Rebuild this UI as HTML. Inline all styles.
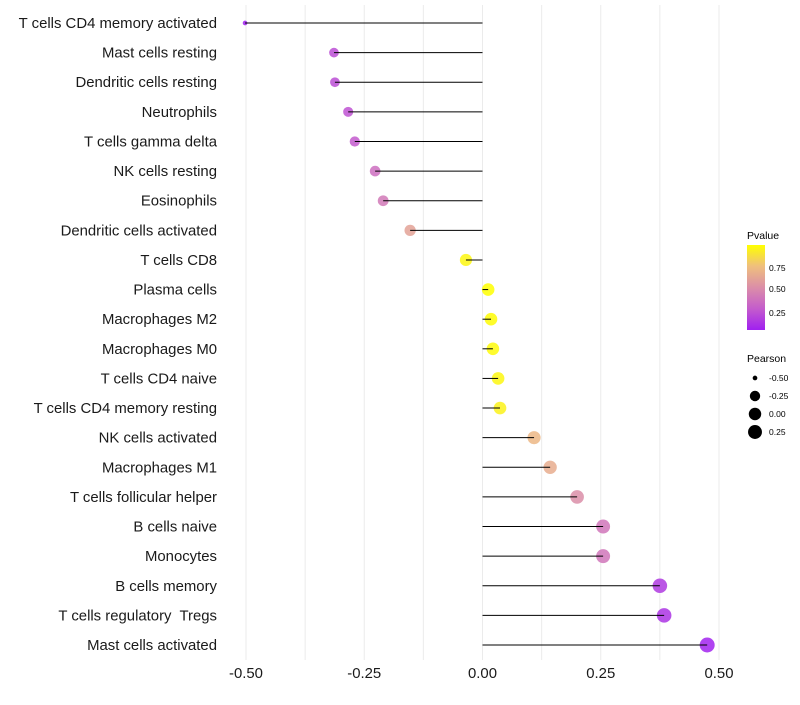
<!DOCTYPE html>
<html><head><meta charset="utf-8"><style>
body{margin:0;background:#fff;font-family:"Liberation Sans",sans-serif}
svg text{font-family:"Liberation Sans",sans-serif;white-space:pre}
</style></head><body>
<svg id="chart" width="800" height="700">
<defs><linearGradient id="pg" x1="0" y1="1" x2="0" y2="0">
<stop offset="0" stop-color="#a020f0"/><stop offset="0.25" stop-color="#c45ccc"/><stop offset="0.5" stop-color="#db8ea8"/><stop offset="0.75" stop-color="#efbf7e"/><stop offset="1" stop-color="#ffff00"/></linearGradient></defs>
<g id="grid"></g>
<g id="marks"></g>
<g id="ylab"></g>
<g id="xlab"></g>
<g>
<text x="747" y="239" font-size="10.5">Pvalue</text>
<rect x="747" y="245" width="18" height="85" fill="url(#pg)"/>
<text x="769" y="271" font-size="8.5">0.75</text>
<text x="769" y="292" font-size="8.5">0.50</text>
<text x="769" y="316" font-size="8.5">0.25</text>
</g>
<g id="sizeleg">
<text x="747" y="362" font-size="10.5">Pearson</text>
</g>
</svg>
<script>
const categories=["T cells CD4 memory activated","Mast cells resting","Dendritic cells resting","Neutrophils","T cells gamma delta","NK cells resting","Eosinophils","Dendritic cells activated","T cells CD8","Plasma cells","Macrophages M2","Macrophages M0","T cells CD4 naive","T cells CD4 memory resting","NK cells activated","Macrophages M1","T cells follicular helper","B cells naive","Monocytes","B cells memory","T cells regulatory  Tregs","Mast cells activated"];
const pearson=[-0.502,-0.314,-0.312,-0.284,-0.27,-0.227,-0.21,-0.153,-0.035,0.012,0.018,0.022,0.033,0.037,0.109,0.143,0.2,0.255,0.255,0.375,0.384,0.475];
const pvalue=[0.01,0.2,0.2,0.22,0.25,0.35,0.4,0.6,0.95,0.98,0.97,0.96,0.95,0.93,0.7,0.65,0.5,0.38,0.38,0.12,0.1,0.03];
const xTicks=[-0.5,-0.25,0,0.25,0.5];
const xTickLabels=["-0.50","-0.25","0.00","0.25","0.50"];
const sizeLegend=[-0.5,-0.25,0,0.25];
const sizeLegendLabels=["-0.50","-0.25","0.00","0.25"];
const NS="http://www.w3.org/2000/svg";
const X=v=>482.5+v*473;
const Y=i=>23+i*(622/21);
const R=v=>2+5.5*Math.pow(Math.max(0.001,(v+0.5)/0.97),0.4);
const stops=[[0,[160,32,240]],[0.25,[196,92,204]],[0.5,[219,142,168]],[0.75,[239,191,126]],[1,[255,255,0]]];
function col(p){p=Math.min(1,Math.max(0,(p-0.02)/0.96));for(let k=1;k<stops.length;k++){if(p<=stops[k][0]){const a=stops[k-1],b=stops[k],t=(p-a[0])/(b[0]-a[0]);return "rgb("+a[1].map((c,j)=>Math.round(c+(b[1][j]-c)*t)).join(",")+")";}}return "rgb(255,255,0)";}
function mk(t,a,parent){const e=document.createElementNS(NS,t);for(const k in a)e.setAttribute(k,a[k]);parent.appendChild(e);return e;}
const grid=document.getElementById('grid');
for(let v=-0.5;v<=0.5001;v+=0.125){const l=mk('line',{x1:X(v),x2:X(v),y1:5,y2:660,stroke:'#ebebeb','stroke-width':1},grid);

}
const marks=document.getElementById('marks'),ylab=document.getElementById('ylab'),xlab=document.getElementById('xlab');
categories.forEach((c,i)=>{
const d=mk('circle',{cx:X(pearson[i]),cy:Y(i),r:R(pearson[i]),fill:col(pvalue[i]),'fill-opacity':0.85},marks);


const s=mk('line',{x1:X(0),x2:X(pearson[i]),y1:Y(i),y2:Y(i),stroke:'#000','stroke-width':1},marks);


const t=mk('text',{x:217,y:Y(i)+5,'text-anchor':'end','font-size':14.9,fill:'#1a1a1a'},ylab);t.textContent=c;


});
xTicks.forEach((v,i)=>{const t=mk('text',{x:X(v),y:678,'text-anchor':'middle','font-size':14.9,fill:'#1a1a1a'},xlab);t.textContent=xTickLabels[i];

});
const sl=document.getElementById('sizeleg');
sizeLegend.forEach((v,i)=>{const y=378+i*18;
const c=mk('circle',{cx:755,cy:y,r:R(v),fill:'#000'},sl);


const t=mk('text',{x:769,y:y+3,'font-size':8.5},sl);t.textContent=sizeLegendLabels[i];

});
</script>
</body></html>
